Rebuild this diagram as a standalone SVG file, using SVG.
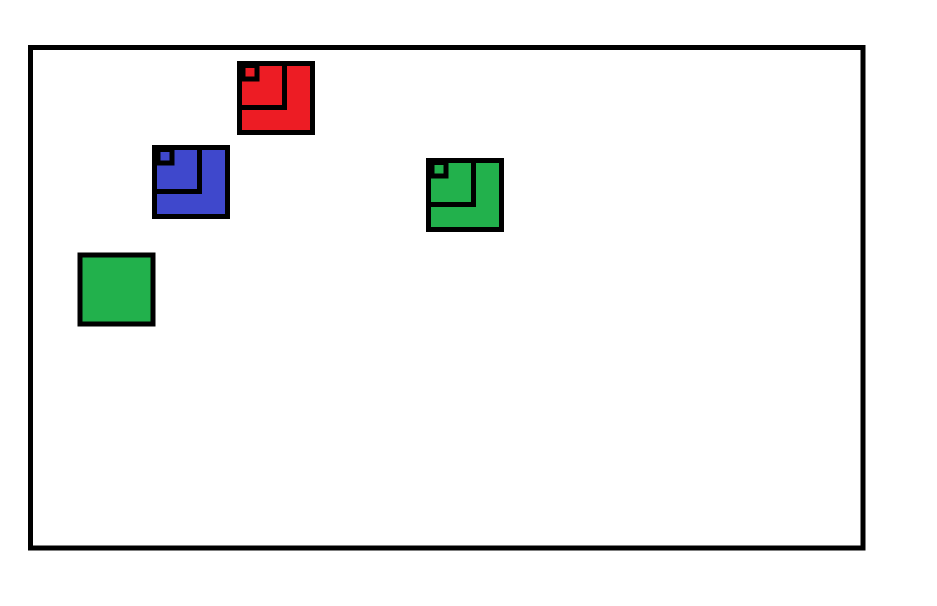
<svg xmlns="http://www.w3.org/2000/svg" width="937" height="606" viewBox="0 0 937 606">
  <style>
    .frame { fill: #ffffff; stroke: #000000; stroke-width: 5; }
    .box { stroke: #000000; stroke-width: 5; }
    .red { fill: #ED1C24; }
    .blue { fill: #3F48CC; }
    .green { fill: #22B14C; }
  </style>
  <rect x="0" y="0" width="937" height="606" fill="#ffffff"/>
  <rect id="frame" class="frame" x="30.5" y="47.5" width="832.5" height="500.5"/>
  <g id="red-node" transform="translate(237,61)">
    <rect class="box red" x="2.5" y="2.5" width="73" height="69"/>
    <rect class="box red" x="2.5" y="2.5" width="45" height="44"/>
    <rect class="box red" x="6" y="4.5" width="14" height="13.5"/>
  </g>
  <g id="blue-node" transform="translate(152,145)">
    <rect class="box blue" x="2.5" y="2.5" width="73" height="69"/>
    <rect class="box blue" x="2.5" y="2.5" width="45" height="44"/>
    <rect class="box blue" x="6" y="4.5" width="14" height="13.5"/>
  </g>
  <g id="green-node" transform="translate(426,158)">
    <rect class="box green" x="2.5" y="2.5" width="73" height="69"/>
    <rect class="box green" x="2.5" y="2.5" width="45" height="44"/>
    <rect class="box green" x="6" y="4.5" width="14" height="13.5"/>
  </g>
  <g id="plain-green-node" transform="translate(77.5,252.5)">
    <rect class="box green" x="2.5" y="2.5" width="73" height="69"/>
  </g>
  <g id="connectors"></g>
</svg>
